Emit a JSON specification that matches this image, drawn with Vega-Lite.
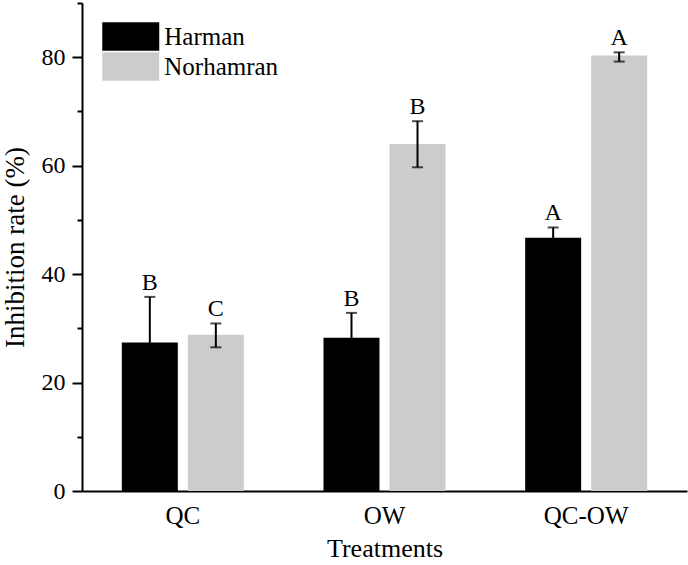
{
  "$schema": "https://vega.github.io/schema/vega-lite/v6.json",
  "width": 605,
  "height": 488,
  "autosize": {"type": "none"},
  "padding": {"left": 82, "top": 3, "right": 1, "bottom": 74},
  "background": "white",
  "config": {
    "view": {"stroke": null},
    "font": "Liberation Serif",
    "axis": {"labelFont": "Liberation Serif", "titleFont": "Liberation Serif"},
    "legend": {"labelFont": "Liberation Serif", "titleFont": "Liberation Serif"},
    "text": {"font": "Liberation Serif"},
    "style": {
      "guide-label": {"font": "Liberation Serif"},
      "guide-title": {"font": "Liberation Serif"}
    }
  },
  "data": {
    "values": [
      {"treatment": "QC", "compound": "Harman", "mean": 27.4, "lo": 19.0, "hi": 35.8, "letter": "B"},
      {"treatment": "QC", "compound": "Norhamran", "mean": 28.8, "lo": 26.5, "hi": 30.9, "letter": "C"},
      {"treatment": "OW", "compound": "Harman", "mean": 28.25, "lo": 23.65, "hi": 32.85, "letter": "B"},
      {"treatment": "OW", "compound": "Norhamran", "mean": 64.0, "lo": 59.7, "hi": 68.2, "letter": "B"},
      {"treatment": "QC-OW", "compound": "Harman", "mean": 46.7, "lo": 44.8, "hi": 48.6, "letter": "A"},
      {"treatment": "QC-OW", "compound": "Norhamran", "mean": 80.3, "lo": 79.2, "hi": 80.9, "letter": "A"}
    ]
  },
  "encoding": {
    "x": {
      "field": "treatment", "type": "nominal", "sort": ["QC", "OW", "QC-OW"],
      "scale": {"paddingInner": 0.395, "paddingOuter": 0.1975},
      "axis": {
        "title": "Treatments", "titleFont": "Liberation Serif", "titleFontSize": 26, "titleFontWeight": "normal", "titleColor": "black", "titlePadding": 7,
        "labelFont": "Liberation Serif", "labelAngle": 0, "labelFontSize": 25, "labelColor": "black", "labelPadding": 12,
        "ticks": false, "domainColor": "black", "domainWidth": 2, "grid": false
      }
    },
    "xOffset": {
      "field": "compound", "type": "nominal", "sort": ["Harman", "Norhamran"],
      "scale": {"paddingInner": 0.152, "paddingOuter": 0}
    }
  },
  "layer": [
    {
      "mark": {"type": "bar"},
      "encoding": {
        "y": {
          "field": "mean", "type": "quantitative",
          "scale": {"domain": [0, 90], "nice": false},
          "axis": {
            "title": "Inhibition rate (%)", "titleFont": "Liberation Serif", "titleFontSize": 27, "titleFontWeight": "normal", "titleColor": "black", "titlePadding": 12,
            "values": [0, 10, 20, 30, 40, 50, 60, 70, 80, 90],
            "labelExpr": "datum.value % 20 === 0 && datum.value < 90 ? datum.label : ''",
            "labelFont": "Liberation Serif", "labelFontSize": 24, "labelColor": "black", "labelPadding": 7,
            "tickSize": {"condition": {"test": "datum.value % 20 === 0", "value": 10}, "value": 5},
            "tickColor": "black", "tickWidth": 2,
            "domainColor": "black", "domainWidth": 2, "grid": false
          }
        },
        "color": {
          "field": "compound", "type": "nominal",
          "scale": {"domain": ["Harman", "Norhamran"], "range": ["#000000", "#cccccc"]},
          "legend": {
            "orient": "none", "legendX": 34.25, "legendY": 19, "title": null, "padding": 0,
            "labelFont": "Liberation Serif", "labelFontSize": 25, "labelColor": "black", "labelOffset": 19,
            "symbolType": "M-2,-1H2V1H-2Z", "symbolSize": 812, "symbolStrokeWidth": 0, "symbolOpacity": 1,
            "rowPadding": 1
          }
        }
      }
    },
    {
      "mark": {"type": "rule", "color": "black", "strokeWidth": 2},
      "encoding": {
        "y": {"field": "lo", "type": "quantitative"},
        "y2": {"field": "hi"}
      }
    },
    {
      "mark": {"type": "tick", "color": "black", "thickness": 2, "size": 11},
      "encoding": {"y": {"field": "lo", "type": "quantitative"}}
    },
    {
      "mark": {"type": "tick", "color": "black", "thickness": 2, "size": 11},
      "encoding": {"y": {"field": "hi", "type": "quantitative"}}
    },
    {
      "mark": {"type": "text", "font": "Liberation Serif", "fontSize": 24, "color": "black", "baseline": "alphabetic", "dy": -7},
      "encoding": {
        "y": {"field": "hi", "type": "quantitative"},
        "text": {"field": "letter"}
      }
    }
  ]
}
